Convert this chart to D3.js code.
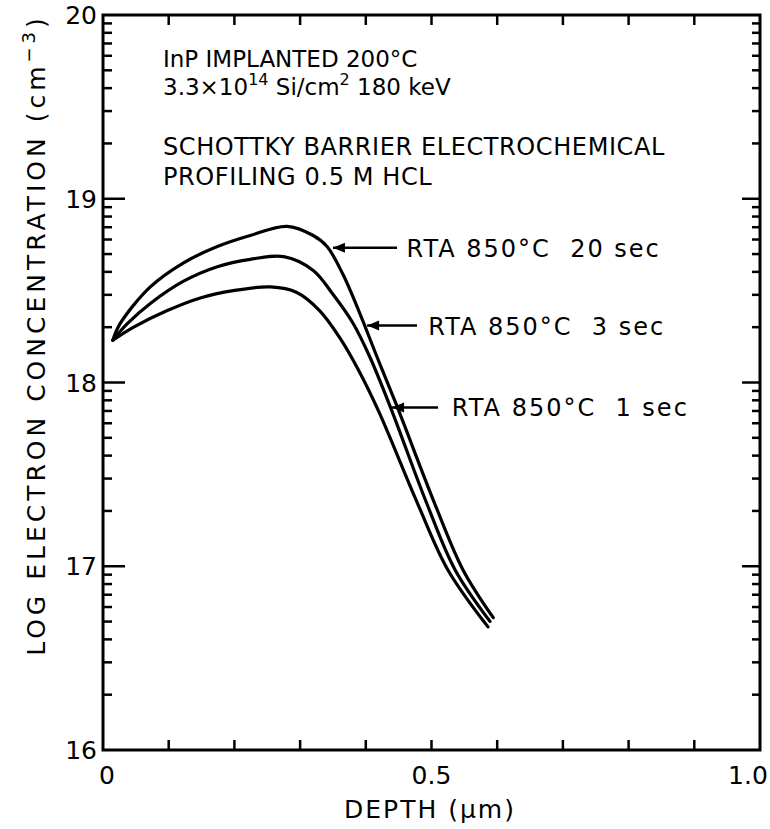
<!DOCTYPE html>
<html>
<head>
<meta charset="utf-8">
<script src="https://cdn.jsdelivr.net/npm/d3@7"></script>
<style>
  body { margin: 0; background: #fff; }
  text { font-family: "DejaVu Sans", sans-serif; fill: #000; }
</style>
</head>
<body>
<svg id="chart" width="770" height="829"></svg>
<script>
// depth in um, log10 electron concentration
var series20 = [[0.015,18.23],[0.026,18.32],[0.072,18.52],[0.122,18.65],[0.174,18.74],[0.224,18.80],[0.28,18.85],[0.320,18.80],[0.341,18.74],[0.365,18.59],[0.391,18.375],[0.417,18.14],[0.447,17.875],[0.505,17.34],[0.548,16.98],[0.594,16.72]];
var series3 = [[0.015,18.23],[0.037,18.32],[0.072,18.43],[0.122,18.55],[0.174,18.63],[0.224,18.67],[0.275,18.685],[0.320,18.61],[0.350,18.48],[0.381,18.32],[0.406,18.14],[0.437,17.87],[0.493,17.34],[0.536,16.98],[0.589,16.70]];
var series1 = [[0.015,18.23],[0.046,18.30],[0.097,18.39],[0.148,18.46],[0.198,18.50],[0.255,18.52],[0.295,18.49],[0.330,18.39],[0.361,18.24],[0.39,18.06],[0.42,17.84],[0.479,17.34],[0.525,16.98],[0.586,16.67]];

var labels = ["RTA 850\u00b0C  20 sec", "RTA 850\u00b0C  3 sec", "RTA 850\u00b0C  1 sec"];
// arrow tip (x,y), end of leader line, start of text
var arrowTip = [[0.350,18.734],[0.402,18.31],[0.44,17.864]];
var leaderEnd = [0.4475,0.478,0.51];
var labelX = [0.462,0.495,0.531];

var xTicks = [0,0.1,0.2,0.3,0.4,0.5,0.6,0.7,0.8,0.9,1.0];
var xTickLabels = {0:"0", 0.5:"0.5", 1:"1.0"};
var yMajor = [16,17,18,19,20];

var drawChart = function() {
  var svg = d3.select("#chart");
  var mLeft = 103, mRight = 760, mTop = 15, mBottom = 750;

  var x = d3.scaleLinear().domain([0,1]).range([mLeft,mRight]);
  var y = d3.scaleLinear().domain([16,20]).range([mBottom,mTop]);

  // minor log ticks
  var yMinor = [];
  for (var d = 16; d < 20; d++) {
    for (var k = 2; k <= 9; k++) yMinor.push(d + Math.log10(k));
  }

  var g = svg.append("g");

  // frame
  g.append("rect")
    .attr("x", mLeft).attr("y", mTop)
    .attr("width", mRight-mLeft).attr("height", mBottom-mTop)
    .attr("fill", "none").attr("stroke", "#000").attr("stroke-width", 3);

  // x ticks bottom & top (inward)
  g.selectAll(".xtb").data(xTicks.slice(1,-1)).enter().append("line")
    .attr("x1", function(d){return x(d);}).attr("x2", function(d){return x(d);})
    .attr("y1", mBottom).attr("y2", mBottom-10)
    .attr("stroke", "#000").attr("stroke-width", 2.5);
  g.selectAll(".xtt").data(xTicks.slice(1,-1)).enter().append("line")
    .attr("x1", function(d){return x(d);}).attr("x2", function(d){return x(d);})
    .attr("y1", mTop).attr("y2", mTop+10)
    .attr("stroke", "#000").attr("stroke-width", 2.5);

  // y ticks left & right
  g.selectAll(".ymaj").data(yMajor.slice(1,-1)).enter().append("line")
    .attr("x1", mLeft).attr("x2", mLeft+22)
    .attr("y1", function(d){return y(d);}).attr("y2", function(d){return y(d);})
    .attr("stroke", "#000").attr("stroke-width", 2.5);
  g.selectAll(".ymajr").data(yMajor.slice(1,-1)).enter().append("line")
    .attr("x1", mRight).attr("x2", mRight-18)
    .attr("y1", function(d){return y(d);}).attr("y2", function(d){return y(d);})
    .attr("stroke", "#000").attr("stroke-width", 2.5);
  g.selectAll(".ymin").data(yMinor).enter().append("line")
    .attr("x1", mLeft).attr("x2", mLeft+9)
    .attr("y1", function(d){return y(d);}).attr("y2", function(d){return y(d);})
    .attr("stroke", "#000").attr("stroke-width", 2.5);
  g.selectAll(".yminr").data(yMinor).enter().append("line")
    .attr("x1", mRight).attr("x2", mRight-8)
    .attr("y1", function(d){return y(d);}).attr("y2", function(d){return y(d);})
    .attr("stroke", "#000").attr("stroke-width", 2.5);

  // tick labels
  g.selectAll(".xl").data(xTicks.filter(function(d){return xTickLabels[d] !== undefined;}))
    .enter().append("text")
    .attr("x", function(d){return d === 0 ? x(d)+4 : (d === 1 ? x(d)-12 : x(d));})
    .attr("y", 784)
    .attr("text-anchor", "middle")
    .attr("font-size", "25px")
    .text(function(d){return xTickLabels[d];});

  g.selectAll(".yl").data(yMajor).enter().append("text")
    .attr("x", 97)
    .attr("y", function(d){return y(d) + 9;})
    .attr("text-anchor", "end")
    .attr("font-size", "25px")
    .text(function(d){return d;});

  // axis titles
  g.append("text")
    .attr("x", 430).attr("y", 818)
    .attr("text-anchor", "middle")
    .attr("font-size", "25px")
    .attr("letter-spacing", "2px")
    .text("DEPTH (\u03bcm)");

  var yt = g.append("text")
    .attr("transform", "translate(45,335) rotate(-90)")
    .attr("text-anchor", "middle")
    .attr("font-size", "25px")
    .attr("letter-spacing", "4px");
  yt.append("tspan").text("LOG ELECTRON CONCENTRATION (cm");
  yt.append("tspan").attr("dy", -10).attr("font-size", "18px").text("\u22123");
  yt.append("tspan").attr("dy", 10).text(")");

  // curves
  var line = d3.line()
    .x(function(d){return x(d[0]);})
    .y(function(d){return y(d[1]);})
    .curve(d3.curveCatmullRom.alpha(0.5));

  g.selectAll(".curve").data([series20, series3, series1]).enter().append("path")
    .attr("d", line)
    .attr("fill", "none")
    .attr("stroke", "#000")
    .attr("stroke-width", 3.2)
    .attr("stroke-linecap", "round");

  // annotations
  for (var i = 0; i < labels.length; i++) {
    var tx = x(arrowTip[i][0]), ty = y(arrowTip[i][1]);
    g.append("line")
      .attr("x1", tx).attr("x2", x(leaderEnd[i]))
      .attr("y1", ty).attr("y2", ty)
      .attr("stroke", "#000").attr("stroke-width", 2.5);
    g.append("path")
      .attr("d", "M" + tx + "," + ty + "L" + (tx+12) + "," + (ty-5) + "L" + (tx+12) + "," + (ty+5) + "Z")
      .attr("fill", "#000");
    g.append("text")
      .attr("x", x(labelX[i])).attr("y", ty + 9)
      .attr("font-size", "24px")
      .attr("letter-spacing", "2px")
      .style("white-space", "pre")
      .text(labels[i]);
  }

  // header text
  var head = g.append("g").attr("font-size", "24px");
  head.append("text").attr("x", 163).attr("y", 67).attr("font-size", "23px").text("InP IMPLANTED 200\u00b0C");
  var l2 = head.append("text").attr("x", 163).attr("y", 95).attr("font-size", "23px");
  l2.append("tspan").text("3.3\u00d710");
  l2.append("tspan").attr("dy", -10).attr("font-size", "16px").text("14");
  l2.append("tspan").attr("dy", 10).text(" Si/cm");
  l2.append("tspan").attr("dy", -10).attr("font-size", "16px").text("2");
  l2.append("tspan").attr("dy", 10).text(" 180 keV");
  head.append("text").attr("x", 163).attr("y", 155).attr("letter-spacing", "0.6px").text("SCHOTTKY BARRIER ELECTROCHEMICAL");
  head.append("text").attr("x", 163).attr("y", 185).attr("letter-spacing", "0.6px").text("PROFILING 0.5 M HCL");
};

drawChart();
</script>
</body>
</html>
